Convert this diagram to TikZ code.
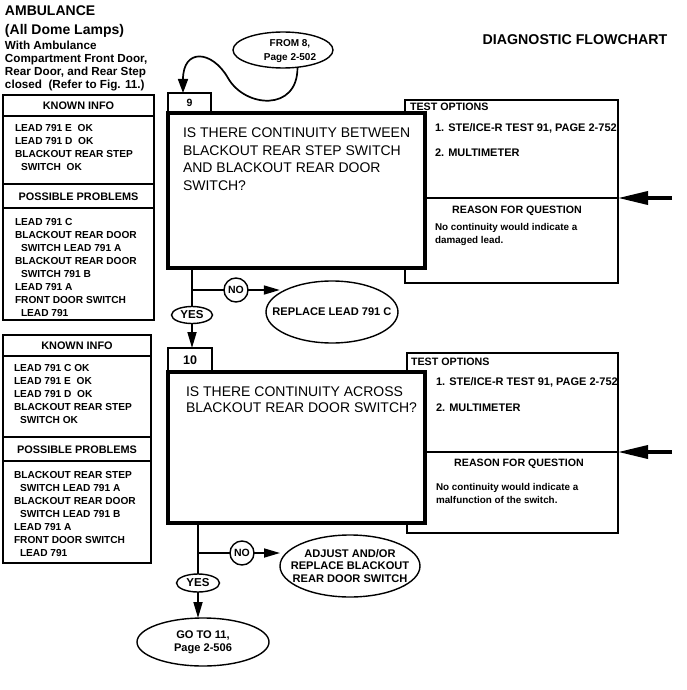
\documentclass[tikz,border=0pt]{standalone}
\usepackage{fontspec}
\setmainfont{Liberation Sans}
\usetikzlibrary{arrows.meta,shapes.geometric}
\begin{document}
\begin{tikzpicture}[x=1pt,y=-1pt,
  every node/.style={inner sep=0pt,outer sep=0pt},
  thinline/.style={line width=1.4pt},
  flowline/.style={line width=1.7pt},
  qbox/.style={draw,line width=3.6pt,fill=white,anchor=north west},
  numbox/.style={draw,thinline,fill=white,anchor=south west,font=\fontsize{10.5}{10.5}\selectfont\bfseries},
  oval/.style={draw,ellipse,thinline,fill=white},
  bf/.style={font=\fontsize{#1}{13}\selectfont\bfseries},
  listtext/.style={anchor=north west,align=left,font=\fontsize{10.15}{13}\selectfont\bfseries},
  hdrtext/.style={font=\fontsize{10.9}{12}\selectfont\bfseries},
  qtext/.style={anchor=north west,align=left,font=\fontsize{14}{17.5}\selectfont},
  opttext/.style={anchor=west,font=\fontsize{11}{12.5}\selectfont\bfseries},
  reasontext/.style={anchor=north west,align=left,font=\fontsize{9.85}{12.5}\selectfont\bfseries},
  ovaltext/.style={align=center,font=\fontsize{11.1}{12.7}\selectfont\bfseries},
  arr/.style={flowline,-{Triangle[length=16pt,width=9pt]}},
  bigarr/.style={line width=3.6pt,-{Triangle[length=30pt,width=13pt]}}
]
\useasboundingbox (0,0) rectangle (686,690);

% header
\node[anchor=north west,align=left,font=\fontsize{14}{19}\selectfont\bfseries] (title) at (5,6) {AMBULANCE\\(All Dome Lamps)};
\node[anchor=north west,align=left,font=\fontsize{11.7}{12.7}\selectfont\bfseries] (cond) at (5,41.5) {With Ambulance\\Compartment Front Door,\\Rear Door, and Rear Step\\closed\ \ (Refer to Fig. 11.)};
\node[bf=14.2] (diag) at (575,39.5) {DIAGNOSTIC FLOWCHART};

% known info box 1
\draw[thinline] (3,95) rectangle (154,320);
\draw[thinline] (3,116) -- (154,116) (3,184) -- (154,184) (3,208) -- (154,208);
\node[hdrtext] (ki1) at (78.5,105.5) {KNOWN INFO};
\node[listtext] (ki1t) at (15,124.5) {LEAD 791 E\ \ OK\\LEAD 791 D\ \ OK\\BLACKOUT REAR STEP\\\hspace*{6pt}SWITCH\ \ OK};
\node[hdrtext] (pp1) at (78.5,196.5) {POSSIBLE PROBLEMS};
\node[listtext] (pp1t) at (15,218.5) {LEAD 791 C\\BLACKOUT REAR DOOR\\\hspace*{6pt}SWITCH LEAD 791 A\\BLACKOUT REAR DOOR\\\hspace*{6pt}SWITCH 791 B\\LEAD 791 A\\FRONT DOOR SWITCH\\\hspace*{6pt}LEAD 791};

% known info box 2
\draw[thinline] (3,335) rectangle (151,563);
\draw[thinline] (3,356) -- (151,356) (3,437) -- (151,437) (3,461) -- (151,461);
\node[hdrtext] (ki2) at (77,346) {KNOWN INFO};
\node[listtext] (ki2t) at (14,364.5) {LEAD 791 C OK\\LEAD 791 E\ \ OK\\LEAD 791 D\ \ OK\\BLACKOUT REAR STEP\\\hspace*{6pt}SWITCH OK};
\node[hdrtext] (pp2) at (77,449.5) {POSSIBLE PROBLEMS};
\node[listtext] (pp2t) at (14,471.5) {BLACKOUT REAR STEP\\\hspace*{6pt}SWITCH LEAD 791 A\\BLACKOUT REAR DOOR\\\hspace*{6pt}SWITCH LEAD 791 B\\LEAD 791 A\\FRONT DOOR SWITCH\\\hspace*{6pt}LEAD 791};

% test options 1
\node[draw,thinline,minimum width=213,minimum height=183,anchor=north west] (to1) at (405,100) {};
\draw[thinline] (425,198) -- (618,198);
\node[opttext,font=\fontsize{10.7}{12}\selectfont\bfseries] (to1h) at (410,107) {TEST OPTIONS};
\node[opttext] (to1a) at (435,128) {1. STE/ICE-R TEST 91, PAGE 2-752};
\node[opttext] (to1b) at (435,153) {2. MULTIMETER};
\node[bf=10.65] (rq1) at (517,211) {REASON FOR QUESTION};
\node[reasontext] (rq1t) at (435,223.5) {No continuity would indicate a\\damaged lead.};
\coordinate (in1) at (672,198);
\draw[bigarr] (in1) -- (in1 -| to1.east);

% question 9
\node[numbox,minimum width=43,minimum height=20] (n9) at (168,113) {9};
\node[qbox,minimum width=257,minimum height=155] (q9) at (168,113) {};
\node[qtext] (q9t) at (183,128) {IS THERE CONTINUITY BETWEEN\\BLACKOUT REAR STEP SWITCH\\AND BLACKOUT REAR DOOR\\SWITCH?};

% from 8
\node[oval,minimum width=100,minimum height=36] (fr8) at (283,50) {};
\node[ovaltext,font=\fontsize{10}{14.5}\selectfont\bfseries] (fr8t) at (290,51) {FROM 8,\\Page 2-502};
\draw[flowline,-{Triangle[length=14pt,width=10pt]}] (fr8.-50) .. controls (298,112) and (245,108) .. (228,78) .. controls (212,50) and (183,48) .. ([xshift=15pt]n9.north west);

% branch 1
\node[oval,minimum width=41,minimum height=17,font=\fontsize{11.5}{11.5}\selectfont\bfseries] (yes1) at (192,315) {YES};
\node[circle,draw,thinline,fill=white,minimum size=24,font=\fontsize{10.5}{10.5}\selectfont\bfseries] (no1) at (236,290) {NO};
\node[oval,minimum width=132,minimum height=62] (rep1) at (332,312) {};
\node[ovaltext] (rep1t) at (rep1) {REPLACE LEAD 791 C};

% test options 2
\node[draw,thinline,minimum width=211,minimum height=180,anchor=north west] (to2) at (407,353) {};
\draw[thinline] (425,452) -- (618,452);
\node[opttext,font=\fontsize{10.7}{12}\selectfont\bfseries] (to2h) at (411,362) {TEST OPTIONS};
\node[opttext] (to2a) at (436,382) {1. STE/ICE-R TEST 91, PAGE 2-752};
\node[opttext] (to2b) at (436,407.5) {2. MULTIMETER};
\node[bf=10.65] (rq2) at (519,464) {REASON FOR QUESTION};
\node[reasontext] (rq2t) at (436,483.5) {No continuity would indicate a\\malfunction of the switch.};
\coordinate (in2) at (672,452);
\draw[bigarr] (in2) -- (in2 -| to2.east);

% question 10
\node[numbox,minimum width=44,minimum height=24,font=\fontsize{12.5}{12.5}\selectfont\bfseries] (n10) at (168,372) {10};
\node[qbox,minimum width=257,minimum height=151] (q10) at (168,372) {};
\node[qtext,font=\fontsize{14}{16}\selectfont] (q10t) at (186,387) {IS THERE CONTINUITY ACROSS\\BLACKOUT REAR DOOR SWITCH?};

% branch 1 connectors
\draw[flowline] (q9.south -| yes1.north) -- (yes1.north);
\draw[flowline] (yes1.north |- no1.west) -- (no1.west);
\draw[arr] (no1.east) -- (no1.east -| rep1.160);
\draw[arr] (yes1.south) -- (yes1.south |- n10.north);

% branch 2
\node[oval,minimum width=43,minimum height=18,font=\fontsize{11.5}{11.5}\selectfont\bfseries] (yes2) at (198,583) {YES};
\node[circle,draw,thinline,fill=white,minimum size=24,font=\fontsize{10.5}{10.5}\selectfont\bfseries] (no2) at (242,553) {NO};
\node[oval,minimum width=140,minimum height=62] (adj) at (350,566) {};
\node[ovaltext] (adjt) at (adj) {ADJUST AND/OR\\REPLACE BLACKOUT\\REAR DOOR SWITCH};
\node[oval,minimum width=132,minimum height=48] (go) at (203,642) {};
\node[ovaltext,font=\fontsize{11.1}{13}\selectfont\bfseries] (got) at (go) {GO TO 11,\\Page 2-506};

\draw[flowline] (q10.south -| yes2.north) -- (yes2.north);
\draw[flowline] (yes2.north |- no2.west) -- (no2.west);
\draw[arr] (no2.east) -- (no2.east -| adj.west);
\draw[arr] (yes2.south) -- (yes2.south |- go.north);
\end{tikzpicture}
\end{document}
